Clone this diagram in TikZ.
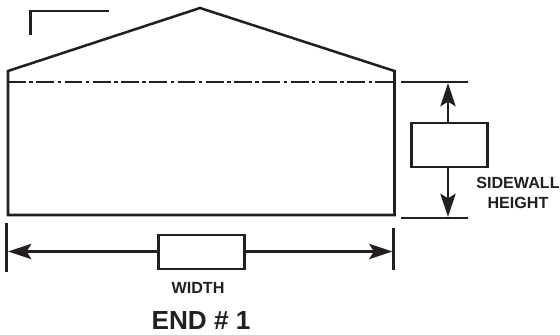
\documentclass[tikz,border=0pt]{standalone}
\usepackage{fontspec}
\setmainfont{Liberation Sans}
\usetikzlibrary{arrows.meta}
\definecolor{ink}{HTML}{231F20}
\tikzset{
  px/.style={x=0.75pt,y=-0.75pt},
  heavy/.style={draw=ink,line width=1.9pt},
  dim/.style={draw=ink,line width=1.8pt},
  dimarrow/.style={draw=ink,line width=1.6pt,-{Stealth[length=17.5pt,width=11.5pt,inset=3.5pt]}},
  field/.style={draw=ink,line width=1.9pt,fill=white,inner sep=0},
  lab/.style={text=ink,font=\bfseries\fontsize{12.1}{13}\selectfont,align=center,inner sep=0},
  title/.style={text=ink,font=\bfseries\fontsize{19.6}{22}\selectfont,inner sep=0}
}
\begin{document}
\begin{tikzpicture}[px]
\useasboundingbox (0,0) rectangle (560,335);
% building outline
\coordinate (wallBL) at (8,215);
\coordinate (eaveL) at (8,71);
\coordinate (ridge) at (200,8);
\coordinate (eaveR) at (394.5,71);
\coordinate (wallBR) at (394.5,215);
\draw[heavy,line join=miter] (wallBL) -- (eaveL) -- (ridge) -- (eaveR) -- (wallBR) -- cycle;
% corner mark
\coordinate (cA) at (30.5,35);
\coordinate (cB) at (30.5,11);
\coordinate (cC) at (109,11);
\draw[heavy] (cA) -- (cB) -- (cC);
% dash-dot line
\coordinate (dL) at (8,82);
\coordinate (dR) at (394.5,82);
\draw[draw=ink,line width=1.9pt,dash pattern=on 13.4pt off 2.6pt on 2.6pt off 2.6pt] (dL) -- (dR);
% sidewall height
\coordinate (tA1) at (401,82);
\coordinate (tA2) at (468,82);
\coordinate (tB1) at (401,218);
\coordinate (tB2) at (468,218);
\draw[dim] (tA1) -- (tA2);
\draw[dim] (tB1) -- (tB2);
\path (449.5,145) node[field,minimum width=57pt,minimum height=33pt] (hbox) {};
\coordinate (hTop) at (448,83);
\coordinate (hBot) at (448,217);
\draw[dimarrow] (hbox.north -| hTop) -- (hTop);
\draw[dimarrow] (hbox.south -| hBot) -- (hBot);
\node[lab] (hlab) at (518,193) {SIDEWALL\\[1.5pt]HEIGHT};
% width
\coordinate (wL1) at (6.5,223);
\coordinate (wL2) at (6.5,272);
\coordinate (wR1) at (393.5,228);
\coordinate (wR2) at (393.5,270);
\draw[dim] (wL1) -- (wL2);
\draw[dim] (wR1) -- (wR2);
\path (201.5,252) node[field,minimum width=64.5pt,minimum height=25.5pt] (wbox) {};
\coordinate (aL) at (8,251.5);
\coordinate (aR) at (392.5,251.5);
\draw[dimarrow] (wbox.west |- aL) -- (aL);
\draw[dimarrow] (wbox.east |- aR) -- (aR);
\node[lab] (wlab) at (198,288) {WIDTH};
\node[title] (end) at (201,321) {END \# 1};
\end{tikzpicture}
\end{document}
